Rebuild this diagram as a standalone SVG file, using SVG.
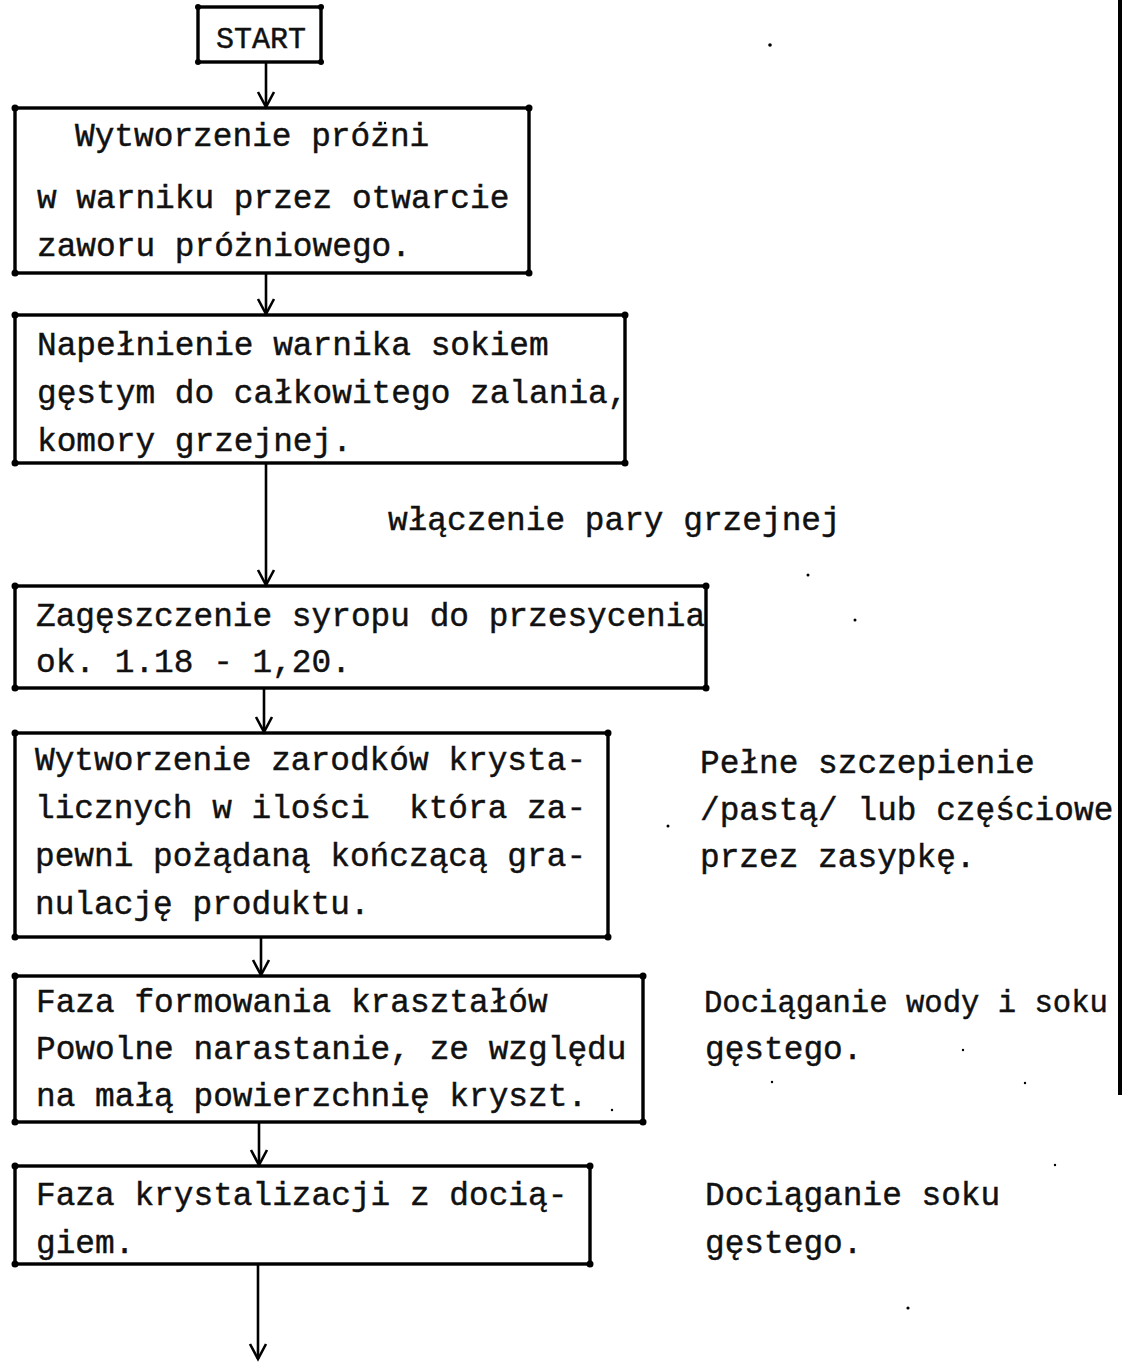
<svg xmlns="http://www.w3.org/2000/svg" width="1122" height="1362" viewBox="0 0 1122 1362">
<style>
.box{fill:none;stroke:#000;stroke-width:3.4}
.c{fill:#000}
.t{font-family:"Liberation Mono","DejaVu Sans Mono",monospace;font-size:32.8px;fill:#111;stroke:#111;stroke-width:0.45}
.s{font-family:"Liberation Mono","DejaVu Sans Mono",monospace;font-size:30px;fill:#111;stroke:#111;stroke-width:0.45}
.ln{stroke:#000;stroke-width:2.6;fill:none}
.n{fill:#000}
</style>
<defs>
<marker id="ah" markerUnits="userSpaceOnUse" markerWidth="24" markerHeight="24" viewBox="-18 -12 24 24" refX="0" refY="0" orient="auto">
<path d="M-15 -8 L0 0 L-15 8" fill="none" stroke="#000" stroke-width="2.6"/>
</marker>
</defs>
<rect x="0" y="0" width="1122" height="1362" fill="#fff"/>

<g id="start">
<rect class="box" x="198" y="7" width="123" height="55"/>
<circle class="c" cx="198" cy="7" r="3"/><circle class="c" cx="321" cy="7" r="3"/><circle class="c" cx="198" cy="62" r="3"/><circle class="c" cx="321" cy="62" r="3"/>
<text class="s" x="216" y="48">START</text>
</g>

<g id="box1">
<rect class="box" x="15" y="108" width="514" height="165"/>
<circle class="c" cx="15" cy="108" r="3.5"/><circle class="c" cx="529" cy="108" r="3.5"/><circle class="c" cx="15" cy="273" r="3.5"/><circle class="c" cx="529" cy="273" r="3.5"/>
<text class="t" x="75" y="146">Wytworzenie próżni</text>
<text class="t" x="37" y="208">w warniku przez otwarcie</text>
<text class="t" x="37" y="256">zaworu próżniowego.</text>
</g>

<g id="box2">
<rect class="box" x="15" y="315" width="610" height="148"/>
<circle class="c" cx="15" cy="315" r="3.5"/><circle class="c" cx="625" cy="315" r="3.5"/><circle class="c" cx="15" cy="463" r="3.5"/><circle class="c" cx="625" cy="463" r="3.5"/>
<text class="t" x="37" y="355">Napełnienie warnika sokiem</text>
<text class="t" x="37" y="403">gęstym do całkowitego zalania,</text>
<text class="t" x="37" y="451">komory grzejnej.</text>
</g>

<g id="label-para">
<text class="t" x="388" y="530">włączenie pary grzejnej</text>
</g>

<g id="box3">
<rect class="box" x="15" y="586" width="691" height="102"/>
<circle class="c" cx="15" cy="586" r="3.5"/><circle class="c" cx="706" cy="586" r="3.5"/><circle class="c" cx="15" cy="688" r="3.5"/><circle class="c" cx="706" cy="688" r="3.5"/>
<text class="t" x="36" y="626">Zagęszczenie syropu do przesycenia</text>
<text class="t" x="36" y="672">ok. 1.18 - 1,20.</text>
</g>

<g id="box4">
<rect class="box" x="15" y="733" width="593" height="204"/>
<circle class="c" cx="15" cy="733" r="3.5"/><circle class="c" cx="608" cy="733" r="3.5"/><circle class="c" cx="15" cy="937" r="3.5"/><circle class="c" cx="608" cy="937" r="3.5"/>
<text class="t" x="35" y="770">Wytworzenie zarodków krysta-</text>
<text class="t" x="35" y="818" xml:space="preserve">licznych w ilości  która za-</text>
<text class="t" x="35" y="866">pewni pożądaną kończącą gra-</text>
<text class="t" x="35" y="914">nulację produktu.</text>
</g>

<g id="note1">
<text class="t" x="700" y="773">Pełne szczepienie</text>
<text class="t" x="700" y="820">/pastą/ lub częściowe</text>
<text class="t" x="700" y="867">przez zasypkę.</text>
</g>

<g id="box5">
<rect class="box" x="15" y="976" width="628" height="146"/>
<circle class="c" cx="15" cy="976" r="3.5"/><circle class="c" cx="643" cy="976" r="3.5"/><circle class="c" cx="15" cy="1122" r="3.5"/><circle class="c" cx="643" cy="1122" r="3.5"/>
<text class="t" x="36" y="1012">Faza formowania kraształów</text>
<text class="t" x="36" y="1059">Powolne narastanie, ze względu</text>
<text class="t" x="36" y="1106">na małą powierzchnię kryszt.</text>
</g>

<g id="note2">
<text class="t" x="704" y="1012" style="font-size:30.6px">Dociąganie wody i soku</text>
<text class="t" x="705" y="1059">gęstego.</text>
</g>

<g id="box6">
<rect class="box" x="15" y="1166" width="575" height="98"/>
<circle class="c" cx="15" cy="1166" r="3.5"/><circle class="c" cx="590" cy="1166" r="3.5"/><circle class="c" cx="15" cy="1264" r="3.5"/><circle class="c" cx="590" cy="1264" r="3.5"/>
<text class="t" x="36" y="1205">Faza krystalizacji z docią-</text>
<text class="t" x="36" y="1253">giem.</text>
</g>

<g id="note3">
<text class="t" x="705" y="1205">Dociąganie soku</text>
<text class="t" x="705" y="1253">gęstego.</text>
</g>

<g id="connectors">
<line class="ln" x1="266" y1="62" x2="266" y2="107" marker-end="url(#ah)"/>
<line class="ln" x1="266" y1="273" x2="266" y2="314" marker-end="url(#ah)"/>
<line class="ln" x1="266" y1="463" x2="266" y2="585" marker-end="url(#ah)"/>
<line class="ln" x1="264" y1="688" x2="264" y2="732" marker-end="url(#ah)"/>
<line class="ln" x1="261" y1="937" x2="261" y2="975" marker-end="url(#ah)"/>
<line class="ln" x1="259" y1="1122" x2="259" y2="1165" marker-end="url(#ah)"/>
<line class="ln" x1="258" y1="1264" x2="258" y2="1359" marker-end="url(#ah)"/>
</g>

<g id="page-edge">
<rect x="1118" y="0" width="4" height="1095" fill="#000"/>
</g>

<g id="specks">
<circle class="n" cx="770" cy="45" r="1.8"/>
<circle class="n" cx="385" cy="123" r="1.2"/>
<circle class="n" cx="808" cy="575" r="1.5"/>
<circle class="n" cx="855" cy="620" r="1.5"/>
<circle class="n" cx="668" cy="826" r="1.5"/>
<circle class="n" cx="612" cy="1110" r="1.2"/>
<circle class="n" cx="963" cy="1050" r="1.2"/>
<circle class="n" cx="772" cy="1082" r="1.2"/>
<circle class="n" cx="1025" cy="1083" r="1.2"/>
<circle class="n" cx="1055" cy="1165" r="1.2"/>
<circle class="n" cx="908" cy="1308" r="1.6"/>
</g>
</svg>
